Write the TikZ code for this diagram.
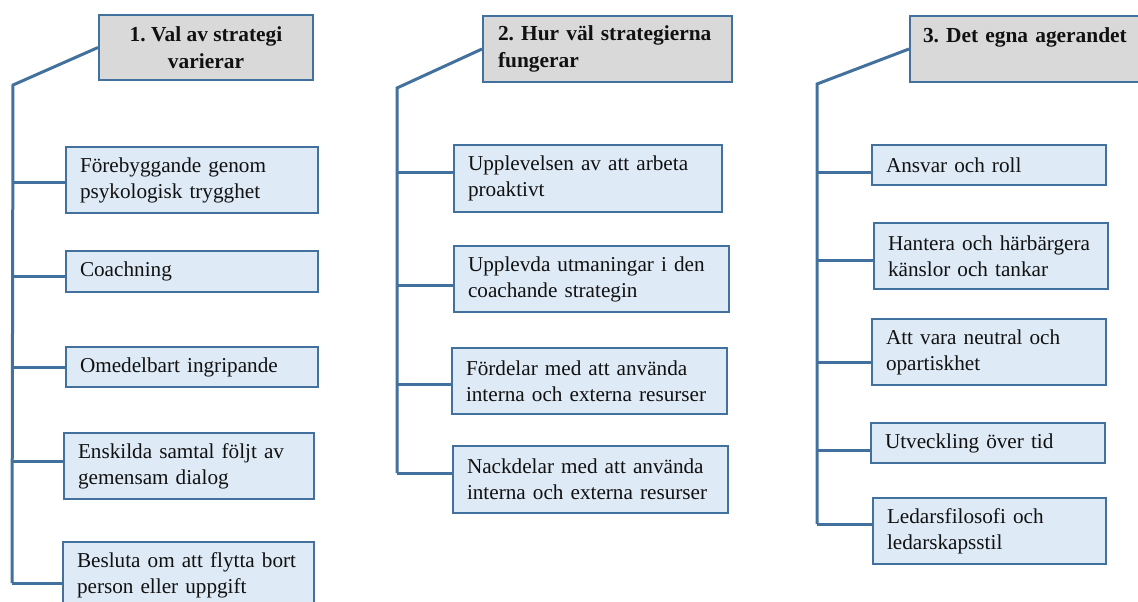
\documentclass[tikz,border=0pt]{standalone}
\usepackage{fontspec}
\setmainfont{Liberation Serif}
\frenchspacing
\definecolor{bord}{HTML}{41719C}
\definecolor{boxfill}{HTML}{DEEAF6}
\definecolor{headfill}{HTML}{D9D9D9}
\definecolor{ink}{HTML}{111111}
\tikzset{
  itembox/.style={draw=bord, fill=boxfill, line width=2pt, rectangle, anchor=north west,
    inner sep=0pt, align=left, text=ink, font=\fontsize{21.2}{26}\selectfont},
  headbox/.style={draw=bord, fill=headfill, line width=2pt, rectangle, anchor=north west,
    inner sep=0pt, text=ink, font=\bfseries\fontsize{21.4}{27}\selectfont},
  conn/.style={draw=bord, line width=3pt},
  sz/.style n args={3}{minimum width=#1pt, minimum height=#2pt, text width=#3pt}
}
\begin{document}
\begin{tikzpicture}[x=1pt,y=-1pt]
\useasboundingbox (0,0) rectangle (1138,602);
\clip (0,0) rectangle (1138,602);

% ---------- Column 1 ----------
\node[headbox, align=center, minimum width=214pt, minimum height=65pt] (h1) at (98,14)
  {1. Val av strategi\\varierar};
\node[itembox, sz={252}{66}{224}] (b11) at (65,146) {\mbox{Förebyggande genom}\\\mbox{psykologisk trygghet}};
\node[itembox, sz={252}{41}{224}] (b12) at (65,250) {\mbox{Coachning}};
\node[itembox, sz={252}{40}{224}] (b13) at (65,346) {\mbox{Omedelbart ingripande}};
\node[itembox, sz={250}{66}{222}] (b14) at (63,432) {\mbox{Enskilda samtal följt av}\\\mbox{gemensam dialog}};
\node[itembox, sz={251}{67}{223}] (b15) at (62,541) {\mbox{Besluta om att flytta bort}\\\mbox{person eller uppgift}};

\coordinate (c1) at (13,85);
\coordinate (s11) at (12,182);
\coordinate (s12) at (12,276);
\coordinate (s13) at (12,367);
\coordinate (s14) at (12,461);
\coordinate (s15) at (12,583);
\draw[conn] (h1.west) -- (c1) -- (s15);
\foreach \i in {1,...,5} \draw[conn] (s1\i) -- (s1\i -| b1\i.west);

% ---------- Column 2 ----------
\node[headbox, align=left, minimum width=249pt, minimum height=66pt, text width=219pt] (h2) at (482,15)
  {\mbox{2. Hur väl strategierna}\\\mbox{fungerar}};
\node[itembox, sz={268}{67}{240}] (b21) at (453,144) {\mbox{Upplevelsen av att arbeta}\\\mbox{proaktivt}};
\node[itembox, sz={275}{66}{247}] (b22) at (453,245) {\mbox{Upplevda utmaningar i den}\\\mbox{coachande strategin}};
\node[itembox, sz={275}{66}{247}] (b23) at (451,347) {\mbox{Fördelar med att använda}\\\mbox{interna och externa resurser}};
\node[itembox, sz={275}{67}{247}] (b24) at (452,445) {\mbox{Nackdelar med att använda}\\\mbox{interna och externa resurser}};

\coordinate (c2) at (397,88);
\coordinate (s21) at (397,172);
\coordinate (s22) at (397,285);
\coordinate (s23) at (397,384);
\coordinate (s24) at (397,473);
\draw[conn] (h2.west) -- (c2) -- (s24);
\foreach \i in {1,...,4} \draw[conn] (s2\i) -- (s2\i -| b2\i.west);

% ---------- Column 3 ----------
\node[headbox, align=left, minimum width=250pt, minimum height=66pt, text width=224pt] (h3) at (909,15)
  {\mbox{3. Det egna agerandet}\\\mbox{}};
\node[itembox, sz={234}{40}{206}] (b31) at (871,144) {\mbox{Ansvar och roll}};
\node[itembox, sz={234}{66}{206}] (b32) at (873,222) {\mbox{Hantera och härbärgera}\\\mbox{känslor och tankar}};
\node[itembox, sz={234}{66}{206}] (b33) at (871,318) {\mbox{Att vara neutral och}\\\mbox{opartiskhet}};
\node[itembox, sz={234}{40}{206}] (b34) at (870,422) {\mbox{Utveckling över tid}};
\node[itembox, sz={233}{66}{205}] (b35) at (872,497) {\mbox{Ledarsfilosofi och}\\\mbox{ledarskapsstil}};

\coordinate (c3) at (817,84);
\coordinate (s31) at (817,172);
\coordinate (s32) at (817,260);
\coordinate (s33) at (817,362);
\coordinate (s34) at (817,450);
\coordinate (s35) at (817,524);
\draw[conn] (h3.west) -- (c3) -- (s35);
\foreach \i in {1,...,5} \draw[conn] (s3\i) -- (s3\i -| b3\i.west);
\end{tikzpicture}
\end{document}
